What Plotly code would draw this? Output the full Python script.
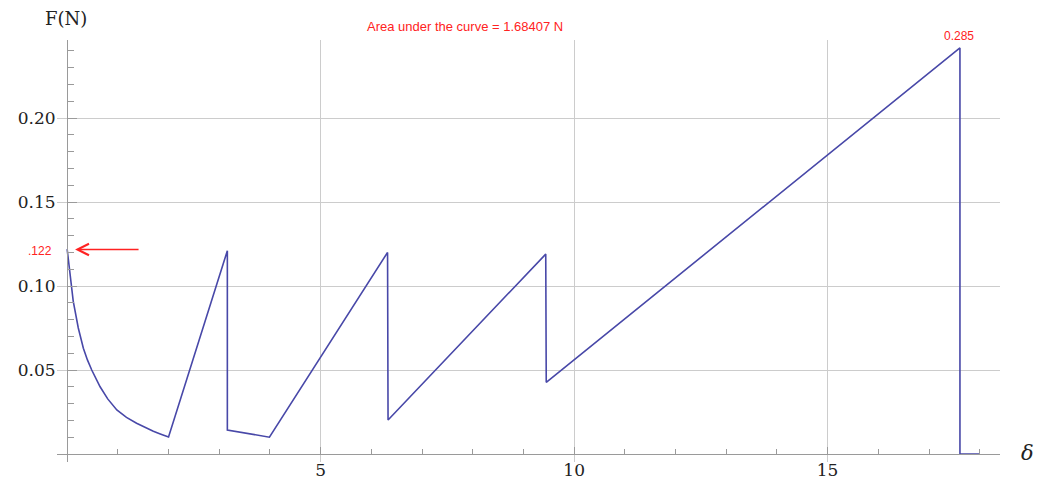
import plotly.graph_objects as go

# ---- data ----
decay_delta = [0.0, 0.03, 0.057, 0.12, 0.22, 0.32, 0.40, 0.485, 0.65, 0.80, 0.98, 1.17, 1.37, 1.55, 1.70, 1.85, 2.0]
decay_force = [0.122, 0.114, 0.106, 0.091, 0.075, 0.063, 0.056, 0.050, 0.040, 0.0328, 0.0262, 0.0218, 0.0183, 0.0156, 0.0136, 0.0118, 0.0101]

saw_delta = [2.0, 3.16, 3.16, 3.99, 6.32, 6.33, 9.44, 9.45, 17.61, 17.61, 18.0]
saw_force = [0.0101, 0.121, 0.0143, 0.0100, 0.120, 0.0202, 0.119, 0.0427, 0.2417, 0.0, 0.0]

x_tick_vals = [5, 10, 15]
x_tick_text = ["5", "10", "15"]
y_tick_vals = [0.05, 0.10, 0.15, 0.20]
y_tick_text = ["0.05", "0.10", "0.15", "0.20"]

title_text = "Area under the curve = 1.68407 N"
peak_label = "0.285"
start_label = ".122"

LINE = "#4848a8"
RED = "#ff2222"
AXIS = "#9a9a9a"
GRID = "#cccccc"
SERIF = "DejaVu Serif"

X_RANGE = [-0.2, 18.4]
Y_RANGE = [-0.00476, 0.24643]


def px(xv):
    return (xv - X_RANGE[0]) / (X_RANGE[1] - X_RANGE[0])


def py(yv):
    return (yv - Y_RANGE[0]) / (Y_RANGE[1] - Y_RANGE[0])


fig = go.Figure()
fig.add_trace(go.Scatter(x=decay_delta + saw_delta[1:], y=decay_force + saw_force[1:], mode="lines",
                         line=dict(color=LINE, width=1.6),
                         hoverinfo="skip", showlegend=False))

fig.update_layout(
    width=1037, height=479,
    margin=dict(l=57, r=37, t=40, b=17, pad=0),
    paper_bgcolor="white", plot_bgcolor="white",
    template="none",
    showlegend=False,
    xaxis=dict(
        range=X_RANGE, anchor="free", position=py(0),
        showline=True, linecolor=AXIS, linewidth=1,
        showgrid=True, gridcolor=GRID, gridwidth=1,
        zeroline=False,
        tickmode="array", tickvals=x_tick_vals, ticktext=x_tick_text,
        ticks="inside", ticklen=7, tickcolor=AXIS, tickwidth=1,
        ticklabelstandoff=1,
        tickfont=dict(family=SERIF, size=17, color="#222222"),
        minor=dict(tickmode="linear", tick0=0, dtick=1, ticks="inside",
                   ticklen=5, tickcolor=AXIS, showgrid=False),
        automargin=False, fixedrange=True,
    ),
    yaxis=dict(
        range=Y_RANGE, anchor="free", position=px(0),
        showline=True, linecolor=AXIS, linewidth=1.2,
        showgrid=True, gridcolor=GRID, gridwidth=1,
        zeroline=False,
        tickmode="array", tickvals=y_tick_vals, ticktext=y_tick_text,
        ticks="inside", ticklen=9, tickcolor=AXIS, tickwidth=1,
        ticklabelstandoff=8,
        tickfont=dict(family=SERIF, size=17, color="#222222"),
        minor=dict(tickmode="linear", tick0=0, dtick=0.01, ticks="inside",
                   ticklen=6, tickcolor=AXIS, showgrid=False),
        automargin=False, fixedrange=True,
    ),
)

annotations = [
    dict(x=px(-0.02), y=py(0.259), text="F(N)", showarrow=False, xanchor="center", yanchor="middle",
         xref="paper", yref="paper",
         font=dict(family=SERIF, size=18, color="#222222")),
    dict(x=px(18.95), y=py(0.0008), text="<i>δ</i>", showarrow=False, xanchor="center", yanchor="middle",
         xref="paper", yref="paper",
         font=dict(family=SERIF, size=21, color="#222222")),
    dict(x=px(7.85), y=py(0.2542), text=title_text, showarrow=False, xanchor="center", yanchor="middle",
         xref="paper", yref="paper",
         font=dict(family="Liberation Sans", size=13, color=RED)),
    dict(x=px(17.59), y=py(0.2491), text=peak_label, showarrow=False, xanchor="center", yanchor="middle",
         xref="paper", yref="paper",
         font=dict(family="Liberation Sans", size=12, color=RED)),
    dict(x=px(-0.535), y=py(0.1211), text=start_label, showarrow=False, xanchor="center", yanchor="middle",
         xref="paper", yref="paper",
         font=dict(family="Liberation Sans", size=12, color=RED)),
    dict(x=0.156, y=0.1217, text="", showarrow=True, ax=65, ay=0, axref="pixel", ayref="pixel",
         arrowhead=5, arrowsize=1.5, arrowwidth=1.5, arrowcolor=RED, standoff=0),
]
fig.update_layout(annotations=annotations)

fig.write_html("out.html", include_plotlyjs=True, config={"displayModeBar": False})
